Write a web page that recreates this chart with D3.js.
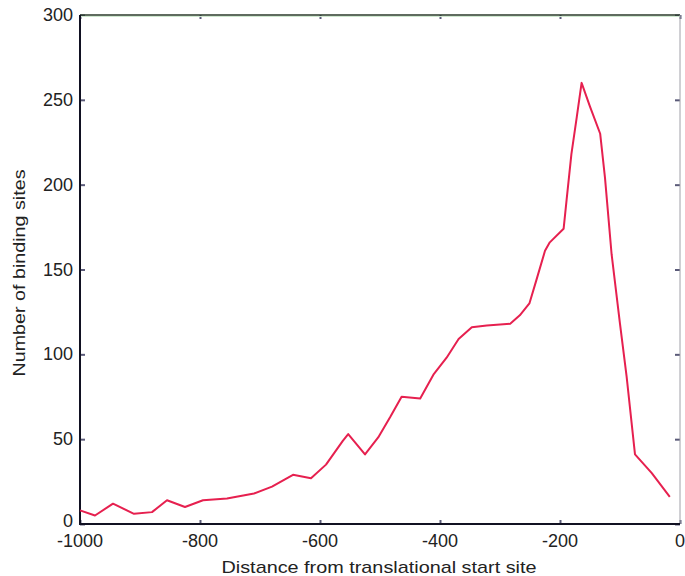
<!DOCTYPE html>
<html>
<head>
<meta charset="utf-8">
<script src="https://cdn.jsdelivr.net/npm/d3@7"></script>
<style>
  body { margin: 0; background: #fff; }
  text { font-family: "Liberation Sans", Arial, sans-serif; fill: #222; }
</style>
</head>
<body>
<div id="chart"></div>
<script>
// binding site counts vs distance from translational start site
var distance = [-1000, -975, -945, -910, -880, -855, -825, -795, -755, -710, -680, -645, -615, -590,
  -562, -553, -525, -503, -483, -464, -433, -411, -389, -369, -347, -322, -283, -267, -251, -240,
  -225, -217, -194, -189, -181, -172, -164, -150, -133, -125, -114, -100, -89, -75, -47, -17];
var sites = [8, 5, 12, 6, 7, 14, 10, 14, 15, 18, 22, 29, 27, 35,
  49, 53, 41, 51, 63, 75, 74, 88, 98, 109, 116, 117, 118, 123, 130, 143,
  161, 166, 174, 191, 218, 240, 260, 246, 230, 204, 159, 118, 87, 41, 30, 16];
var xTicks = [-1000, -800, -600, -400, -200, 0];
var yTicks = [0, 50, 100, 150, 200, 250, 300];

var width = 685, height = 576;
var plotL = 80, plotR = 680, plotT = 15, plotB = 524;

var svg = d3.select("#chart").append("svg")
    .attr("width", width)
    .attr("height", height);

var x = d3.scaleLinear().domain([-1000, 0]).range([plotL, plotR]);
var y = d3.scaleLinear().domain([0, 300]).range([plotB, plotT]);

// inside ticks, MATLAB style, on all four sides
var tickColor = "#5a5a78";
function styleTicks(g) {
  g.select(".domain").remove();
  g.selectAll("line").attr("stroke", tickColor).attr("stroke-width", 2);
}
svg.append("g")
    .attr("transform", "translate(0," + plotB + ")")
    .call(d3.axisBottom(x).tickValues(xTicks).tickSize(-4).tickFormat(""))
    .call(styleTicks);
svg.append("g")
    .attr("transform", "translate(0," + plotT + ")")
    .call(d3.axisTop(x).tickValues(xTicks).tickSize(-4).tickFormat(""))
    .call(styleTicks);
svg.append("g")
    .attr("transform", "translate(" + plotL + ",0)")
    .call(d3.axisLeft(y).tickValues(yTicks).tickSize(-5).tickFormat(""))
    .call(styleTicks);
svg.append("g")
    .attr("transform", "translate(" + plotR + ",0)")
    .call(d3.axisRight(y).tickValues(yTicks).tickSize(-5).tickFormat(""))
    .call(styleTicks);

// box
svg.append("line").attr("x1", plotL).attr("x2", plotR).attr("y1", plotT).attr("y2", plotT)
    .attr("stroke", "#2a3a2a").attr("stroke-width", 1.5);
svg.append("line").attr("x1", plotL).attr("x2", plotR).attr("y1", plotT + 1.5).attr("y2", plotT + 1.5)
    .attr("stroke", "#cfe8cf").attr("stroke-width", 1);
svg.append("line").attr("x1", plotR).attr("x2", plotR).attr("y1", plotT).attr("y2", plotB)
    .attr("stroke", "#a0a0a8").attr("stroke-width", 1);
svg.append("line").attr("x1", plotL).attr("x2", plotL).attr("y1", plotT).attr("y2", plotB + 1)
    .attr("stroke", "#111122").attr("stroke-width", 2);
svg.append("line").attr("x1", plotL).attr("x2", plotR).attr("y1", plotB).attr("y2", plotB)
    .attr("stroke", "#111122").attr("stroke-width", 2);

// tick labels
svg.selectAll(".xl").data(xTicks).enter().append("text")
    .attr("x", function(d) { return x(d); })
    .attr("y", 547)
    .attr("text-anchor", "middle")
    .style("font-size", "18px")
    .text(function(d) { return d; });
svg.selectAll(".yl").data(yTicks).enter().append("text")
    .attr("x", 73)
    .attr("y", function(d) { return d === 0 ? y(d) + 3 : y(d) + 6; })
    .attr("text-anchor", "end")
    .style("font-size", "18px")
    .text(function(d) { return d; });

// titles
svg.append("text")
    .attr("x", 379)
    .attr("y", 573)
    .attr("text-anchor", "middle")
    .attr("textLength", 315)
    .attr("lengthAdjust", "spacingAndGlyphs")
    .style("font-size", "17px")
    .text("Distance from translational start site");
svg.append("text")
    .attr("transform", "translate(25,273) rotate(-90)")
    .attr("text-anchor", "middle")
    .attr("textLength", 207)
    .attr("lengthAdjust", "spacingAndGlyphs")
    .style("font-size", "17px")
    .text("Number of binding sites");

// data line
var line = d3.line()
    .x(function(d, i) { return x(distance[i]); })
    .y(function(d) { return y(d); });
svg.append("path")
    .datum(sites)
    .attr("fill", "none")
    .attr("stroke", "#e6204f")
    .attr("stroke-width", 2)
    .attr("stroke-linejoin", "round")
    .attr("d", line);
</script>
</body>
</html>
